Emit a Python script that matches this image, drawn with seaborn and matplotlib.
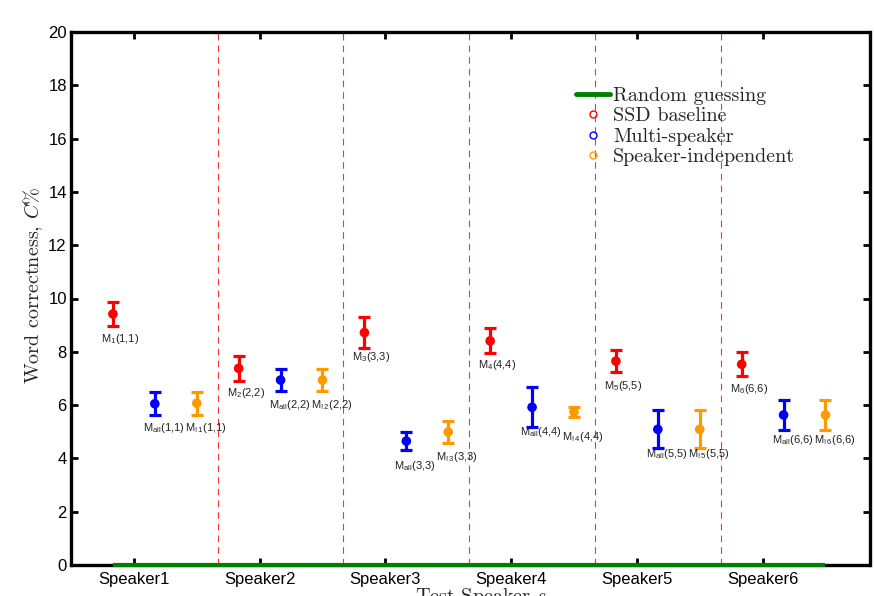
import matplotlib
matplotlib.use("Agg")
import matplotlib.pyplot as plt
from matplotlib.lines import Line2D
import numpy as np
import pandas as pd
import seaborn as sns

# Word correctness per test speaker (mean and half-width of the error bar)
speakers = ["Speaker1", "Speaker2", "Speaker3", "Speaker4", "Speaker5", "Speaker6"]
ssd_mean = [9.42, 7.38, 8.72, 8.41, 7.65, 7.53]
ssd_err = [0.46, 0.48, 0.57, 0.47, 0.42, 0.45]
multi_mean = [6.05, 6.94, 4.65, 5.92, 5.09, 5.63]
multi_err = [0.43, 0.40, 0.35, 0.75, 0.71, 0.58]
indep_mean = [6.07, 6.94, 4.99, 5.74, 5.09, 5.63]
indep_err = [0.43, 0.40, 0.42, 0.20, 0.71, 0.58]
ssd_labels = [r"M$_{\mathrm{%d}}$(%d,%d)" % (i, i, i) for i in range(1, 7)]
multi_labels = [r"M$_{\mathrm{all}}$(%d,%d)" % (i, i) for i in range(1, 7)]
indep_labels = [r"M$_{\mathrm{!%d}}$(%d,%d)" % (i, i, i) for i in range(1, 7)]
random_guess = 0.0

sns.set_theme(style="white")
plt.rcParams["font.family"] = ["Liberation Sans", "DejaVu Sans"]
plt.rcParams["mathtext.fontset"] = "custom"
plt.rcParams["mathtext.rm"] = "Liberation Sans"
plt.rcParams["mathtext.it"] = "Liberation Sans:italic"
plt.rcParams["mathtext.bf"] = "Liberation Sans:bold"

fig = plt.figure(figsize=(8.74, 5.96), dpi=100)
ax = fig.add_axes([71 / 874, 1 - 565 / 596, (869.5 - 71) / 874, (565 - 32) / 596])

pos = np.arange(1, 7)
groups = [
    ("SSD baseline", ssd_mean, ssd_err, ssd_labels, -1 / 6, "#ff0000"),
    ("Multi-speaker", multi_mean, multi_err, multi_labels, 1 / 6, "#0000ff"),
    ("Speaker-independent", indep_mean, indep_err, indep_labels, 1 / 2, "#ff9900"),
]

rows = []
for name, mean, err, labels, off, col in groups:
    for p, m, e in zip(pos, mean, err):
        rows.append({"model": name, "x": p + off, "y": m, "err": e})
df = pd.DataFrame(rows)
palette = {g[0]: g[5] for g in groups}

for name, mean, err, labels, off, col in groups:
    sub = df[df["model"] == name]
    ax.errorbar(sub["x"], sub["y"], yerr=sub["err"], fmt="none", ecolor=col,
                elinewidth=2.3, capsize=4.6, capthick=2.3, zorder=3)
    for x, y, lab in zip(sub["x"], sub["y"], labels):
        ax.text(x - 0.095, y - 0.66, lab, ha="left", va="top", fontsize=8,
                color="#222222", zorder=4)

sns.scatterplot(data=df, x="x", y="y", hue="model", palette=palette, s=48,
                edgecolor="none", legend=False, ax=ax, zorder=5)

# Separators between speakers
for p in pos[:-1]:
    ax.axvline(p + 2 / 3, color="#ff3030", ls=(0, (6, 4.5)), lw=0.8, zorder=1)

# Chance level
ax.plot([1 - 1 / 6, 6.5], [random_guess, random_guess], color="#008000", lw=3,
        zorder=6, clip_on=False, solid_capstyle="butt")

ax.set_xlim(0.5, 6.85)
ax.set_ylim(0, 20)
ax.set_xticks(pos)
ax.set_xticklabels(speakers)
ax.set_yticks(np.arange(0, 21, 2))
ax.tick_params(axis="both", direction="in", length=5, width=2, labelsize=12,
               top=True, right=True, bottom=True, left=True, pad=3, colors="black")
ax.tick_params(axis="x", pad=5)
for sp in ax.spines.values():
    sp.set_linewidth(2.4)
    sp.set_color("black")
ax.set_xlabel("")
ax.set_ylabel(r"Word correctness, $C\%$", fontfamily="cmr10", math_fontfamily="cm",
              fontsize=14.5)
ax.yaxis.set_label_coords(-0.033, 0.525)

fig.text(415 / 874, -0.002, r"Test Speaker $s$", ha="left", va="center",
         fontfamily="cmr10", math_fontfamily="cm", fontsize=14.5)

handles = [
    Line2D([], [], color="#008000", lw=3.5),
    Line2D([], [], marker="o", ls="none", mfc="none", mec="#ff0000", ms=5, mew=1),
    Line2D([], [], marker="o", ls="none", mfc="none", mec="#0000ff", ms=5, mew=1),
    Line2D([], [], marker="o", ls="none", mfc="none", mec="#ff9900", ms=5, mew=1),
]
names = ["Random guessing", "SSD baseline", "Multi-speaker", "Speaker-independent"]
ax.legend(handles, names, loc="upper left", bbox_to_anchor=(0.627, 0.905),
          frameon=False, prop={"family": "cmr10", "size": 14.5},
          handlelength=1.7, handletextpad=0.15, labelspacing=0.12, borderpad=0.2,
          borderaxespad=0.0)

fig.savefig("out.png", dpi=100)
